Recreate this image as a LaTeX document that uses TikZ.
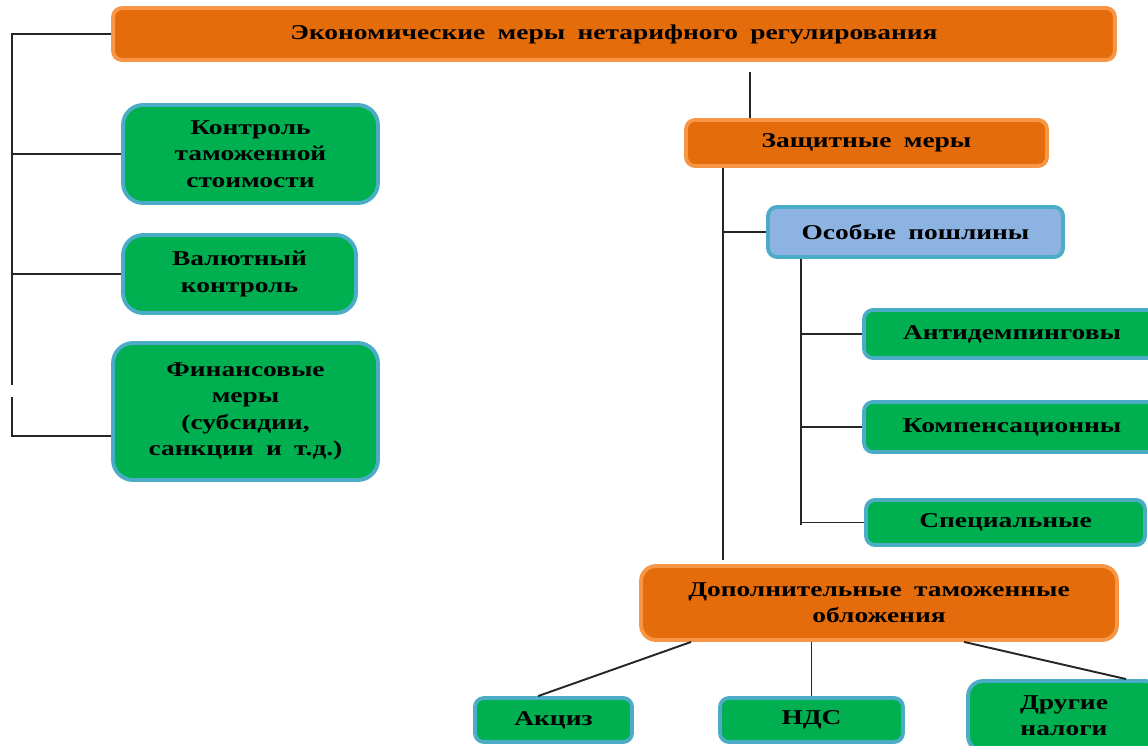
\documentclass[tikz,border=0pt]{standalone}
\usepackage{fontspec}
\setmainfont{Liberation Serif}[FakeStretch=1.3, WordSpace=1.8]
\usetikzlibrary{
    calc,
    positioning
}
\definecolor{orfill}{HTML}{E46C0A}
\definecolor{orline}{HTML}{F79646}
\definecolor{grfill}{HTML}{00B050}
\definecolor{blfill}{HTML}{8DB3E2}
\definecolor{blline}{HTML}{4BACC6}

\begin{document}
\begin{tikzpicture}[x=0.02cm, y=-0.02cm,
    font=\bfseries\fontsize{12}{15}\selectfont,
    orbox/.style={draw=orline, fill=orfill, line width=2.2pt, rounded corners=0.18cm, align=center, inner sep=0pt},
    grbox/.style={draw=blline, fill=grfill, line width=2.2pt, rounded corners=0.18cm, align=center, inner sep=0pt},
    bigbox/.style={grbox, rounded corners=0.4cm},
    link/.style={draw=black!85, line width=1.1pt}]
    \useasboundingbox (0,0) rectangle (1148,746);

    % top level
    \node[orbox, minimum width=20.04cm, minimum height=1.04cm] (econ) at (614,34) {Экономические меры нетарифного регулирования};

    % left branch
    \node[bigbox, minimum width=5.1cm, minimum height=1.96cm] (kts) at (250.5,154) {Контроль\\таможенной\\стоимости};
    \node[bigbox, minimum width=4.66cm, minimum height=1.56cm] (valk) at (239.5,274) {Валютный\\контроль};
    \node[bigbox, minimum width=5.3cm, minimum height=2.74cm] (fin) at (245.5,411.5) {Финансовые\\меры\\(субсидии,\\санкции и т.д.)};

    \coordinate (ltop) at (12,34);
    \coordinate (lgap) at (12,385);
    \coordinate (lgap2) at (12,397);
    \coordinate (lbot) at (12,436);
    \draw[link] (econ.west) -- (ltop) -- (lgap);
    \draw[link] (lgap2) -- (lbot) -- (lbot -| fin.west);
    \draw[link] (kts.west -| ltop) -- (kts.west);
    \draw[link] (valk.west -| ltop) -- (valk.west);

    % protective measures
    \node[orbox, minimum width=7.22cm, minimum height=0.92cm] (zasch) at (866.5,143) {Защитные меры};
    \coordinate (tz) at (750,72);
    \draw[link] (tz) -- (tz |- zasch.north);

    \node[grbox, fill=blfill, minimum width=5.9cm, minimum height=1cm] (osob) at (915.5,232) {Особые пошлины};
    \coordinate (zv) at (723,560);
    \draw[link] (zv |- zasch.south) -- (zv);
    \draw[link] (zv |- osob.west) -- (osob.west);

    \node[grbox, minimum width=5.92cm, minimum height=0.96cm] (anti) at (1012,334) {Антидемпинговы};
    \node[grbox, minimum width=5.92cm, minimum height=1cm] (komp) at (1012,427) {Компенсационны};
    \node[grbox, minimum width=5.58cm, minimum height=0.9cm] (spec) at (1005.5,522.5) {Специальные};
    \coordinate (ov) at (801,525);
    \draw[link] (ov |- osob.south) -- (ov);
    \draw[link] (ov |- anti.west) -- (anti.west);
    \draw[link] (ov |- komp.west) -- (komp.west);
    \draw[link] (ov |- spec.west) -- (spec.west);

    % additional charges
    \node[orbox, rounded corners=0.3cm, minimum width=9.52cm, minimum height=1.48cm] (dop) at (879,603) {Дополнительные таможенные\\обложения};
    \node[grbox, minimum width=3.14cm, minimum height=0.88cm] (akciz) at (553.5,720) {Акциз};
    \node[grbox, minimum width=3.66cm, minimum height=0.88cm] (nds) at (811.5,720) {НДС};
    \node[grbox, rounded corners=0.3cm, minimum width=3.84cm, minimum height=1.4cm] (drug) at (1064,716) {Другие\\налоги};

    \draw[link] ([xshift=1.04cm]dop.south west) -- ([xshift=1.3cm]akciz.north west);
    \draw[link] (nds.north |- dop.south) -- (nds.north);
    \draw[link] ([xshift=6.5cm]dop.south west) -- ([xshift=3.2cm]drug.north west);
\end{tikzpicture}
\end{document}
